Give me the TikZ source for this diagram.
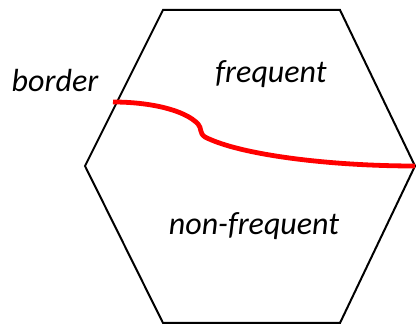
\documentclass[tikz,border=0pt]{standalone}
\usepackage{fontspec}
\setmainfont{Carlito}
\usetikzlibrary{positioning}
\tikzset{
  hexline/.style={draw=black, line width=2pt, line join=miter},
  borderline/.style={draw=red, line width=4.8pt},
  region/.style={font=\fontsize{32}{38}\selectfont\itshape, inner sep=0pt, anchor=base}
}
\begin{document}
\begin{tikzpicture}[x=1pt, y=-1pt]
\useasboundingbox (0,0) rectangle (416,326);
% hexagon corners
\coordinate (tl) at (163,10);
\coordinate (tr) at (340,10);
\coordinate (r) at (415,166);
\coordinate (br) at (340,323);
\coordinate (bl) at (163,323);
\coordinate (l) at (85,166);
\draw[hexline] (tl) -- (tr) -- (r) -- (br) -- (bl) -- (l) -- cycle;
% border curve
\coordinate (bstart) at (113,102);
\coordinate (bkink) at (198,124);
\coordinate (bkink2) at (205,137);
\draw[borderline] (bstart) .. controls (150,102) and (185,110) .. (bkink)
  .. controls (202,128) and (199,133) .. (bkink2)
  .. controls (240,155) and (330,166) .. (r);
% labels
\node[region] (lborder) at (55,92) {border};
\node[region] (lfreq) at (271,83) {frequent};
\node[region] (lnonfreq) at (254,235) {non-frequent};
\end{tikzpicture}
\end{document}
